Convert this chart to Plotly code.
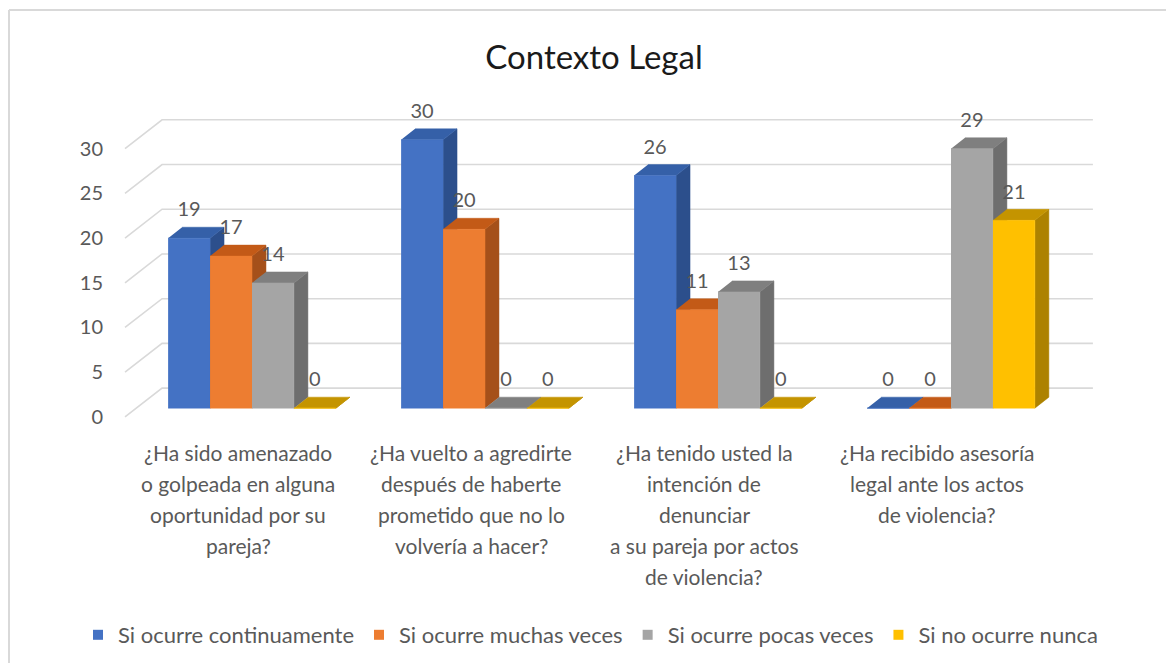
import plotly.graph_objects as go

# ----------------------------------
# Data
# ----------------------------------

categories = [
    "¿Ha sido amenazado<br>o golpeada en alguna<br>oportunidad por su<br>pareja?",
    "¿Ha vuelto a agredirte<br>después de haberte<br>prometido que no lo<br>volvería a hacer?",
    "¿Ha tenido usted la<br>intención de<br>denunciar<br>a su pareja por actos<br>de violencia?",
    "¿Ha recibido asesoría<br>legal ante los actos<br>de violencia?",
]

series_names = [
    "Si ocurre continuamente",
    "Si ocurre muchas veces",
    "Si ocurre pocas veces",
    "Si no ocurre nunca",
]

continuamente = [19, 30, 26, 0]
muchas_veces = [17, 20, 11, 0]
pocas_veces = [14, 0, 13, 29]
nunca = [0, 0, 0, 21]

y_ticks = [0, 5, 10, 15, 20, 25, 30]

# front / top / side colours per series
colors = [
    ("#4472C4", "#3560A8", "#2C4F8C"),
    ("#ED7D31", "#C35A17", "#A5501A"),
    ("#A5A5A5", "#7F7F7F", "#6E6E6E"),
    ("#FFC000", "#C49400", "#AD8200"),
]

# ----------------------------------
# Fake 3D geometry (axis units)
# ----------------------------------

BAR_W = 0.18          # width of one bar, in category units
DX, DY = 0.06, 1.23   # depth offset of bar tops/sides
WALL_DY = 2.24        # back wall gridline offset
FRONT_DY = -0.98      # front end of floor diagonals
X_FRONT, X_BACK, X_RIGHT = -0.545, -0.386, 3.609

TEXT = "#595959"
FONT = "Lato"

# page body has an 8px margin on every side, keep the figure inside it
OFF = 8
FIG_W, FIG_H = 1174 - 2 * OFF, 671 - 2 * OFF
# plot area in screen pixels
PL, PR, PT, PB = 120, 1100, 113, 435
L, T = PL - OFF, PT - OFF
W, H = PR - PL, PB - PT
R, B = FIG_W - L - W, FIG_H - T - H


def px_x(p):
    return (p - PL) / W


def px_y(p):
    return (PB - p) / H


fig = go.Figure()

# gridlines: diagonal on side wall + horizontal on back wall
gx, gy = [], []
for t in y_ticks:
    gx += [X_FRONT, X_BACK, X_RIGHT, None]
    gy += [t + FRONT_DY, t + WALL_DY, t + WALL_DY, None]

fig.add_trace(go.Scatter(
    x=gx, y=gy, mode="lines",
    line=dict(color="#D9D9D9", width=1.6),
    hoverinfo="skip", showlegend=False
))

all_series = [continuamente, muchas_veces, pocas_veces, nunca]
label_x, label_y, label_t = [], [], []

for s, values in enumerate(all_series):
    front_c, top_c, side_c = colors[s]
    fx, fy, tx, ty, sx, sy = [], [], [], [], [], []
    for i, v in enumerate(values):
        x0 = i - 2 * BAR_W + s * BAR_W
        x1 = x0 + BAR_W
        # side face
        sx += [x1, x1 + DX, x1 + DX, x1, None]
        sy += [0, DY, v + DY, v, None]
        # top face
        tx += [x0, x1, x1 + DX, x0 + DX, None]
        ty += [v, v, v + DY, v + DY, None]
        # front face
        fx += [x0, x1, x1, x0, None]
        fy += [0, 0, v, v, None]
        label_x.append((x0 + x1) / 2)
        label_y.append(v + 3.0)
        label_t.append(str(v))

    for xs, ys, c in ((sx, sy, side_c), (tx, ty, top_c), (fx, fy, front_c)):
        fig.add_trace(go.Scatter(
            x=xs, y=ys, mode="lines", fill="toself",
            fillcolor=c, line=dict(color=c, width=0.5),
            hoverinfo="skip", showlegend=False
        ))

    # legend entry
    fig.add_trace(go.Scatter(
        x=[None], y=[None], mode="markers", name=series_names[s],
        marker=dict(symbol="square", size=10, color=front_c)
    ))

# data labels
fig.add_trace(go.Scatter(
    x=label_x, y=label_y, mode="text", text=label_t,
    textfont=dict(family=FONT, size=20, color=TEXT),
    cliponaxis=False, hoverinfo="skip", showlegend=False
))

# category labels, one annotation per line
for i, cat in enumerate(categories):
    for k, line in enumerate(cat.split("<br>")):
        fig.add_annotation(
            x=i, xref="x", xshift=-14,
            y=0, yref="paper", yanchor="middle", yshift=-(17 + 31 * k),
            text=line, showarrow=False,
            font=dict(family=FONT, size=21, color=TEXT)
        )

# chart frame (only the left and top edges fall inside the picture)
frame = dict(color="#D9D9D9", width=2)
fig.add_shape(type="line", xref="paper", yref="paper",
              x0=px_x(9), x1=px_x(9), y0=px_y(10), y1=px_y(720),
              line=frame, layer="below")
fig.add_shape(type="line", xref="paper", yref="paper",
              x0=px_x(9), x1=px_x(1250), y0=px_y(10), y1=px_y(10),
              line=frame, layer="below")

fig.update_layout(
    width=FIG_W, height=FIG_H,
    margin=dict(l=L, r=R, t=T, b=B, autoexpand=False),
    paper_bgcolor="white", plot_bgcolor="white",
    title=dict(
        text="Contexto Legal", x=(594 - OFF) / FIG_W, xanchor="center",
        y=1 - (57 - OFF) / FIG_H, yanchor="middle",
        font=dict(family=FONT, size=33, color="#1a1a1a")
    ),
    xaxis=dict(
        range=[(PL - 252) / 233, (PR - 252) / 233],
        showgrid=False, zeroline=False, showticklabels=False, showline=False
    ),
    yaxis=dict(
        range=[-3, 33],
        tickvals=[t + FRONT_DY for t in y_ticks],
        ticktext=[str(t) for t in y_ticks],
        tickfont=dict(family=FONT, size=20, color=TEXT),
        ticklabelstandoff=16,
        showgrid=False, zeroline=False, showline=False
    ),
    legend=dict(
        orientation="h",
        x=px_x(78), xanchor="left", y=px_y(635), yanchor="middle",
        font=dict(family=FONT, size=22, color=TEXT),
        itemwidth=30, tracegroupgap=0
    ),
    showlegend=True
)

fig.write_html("out.html")
